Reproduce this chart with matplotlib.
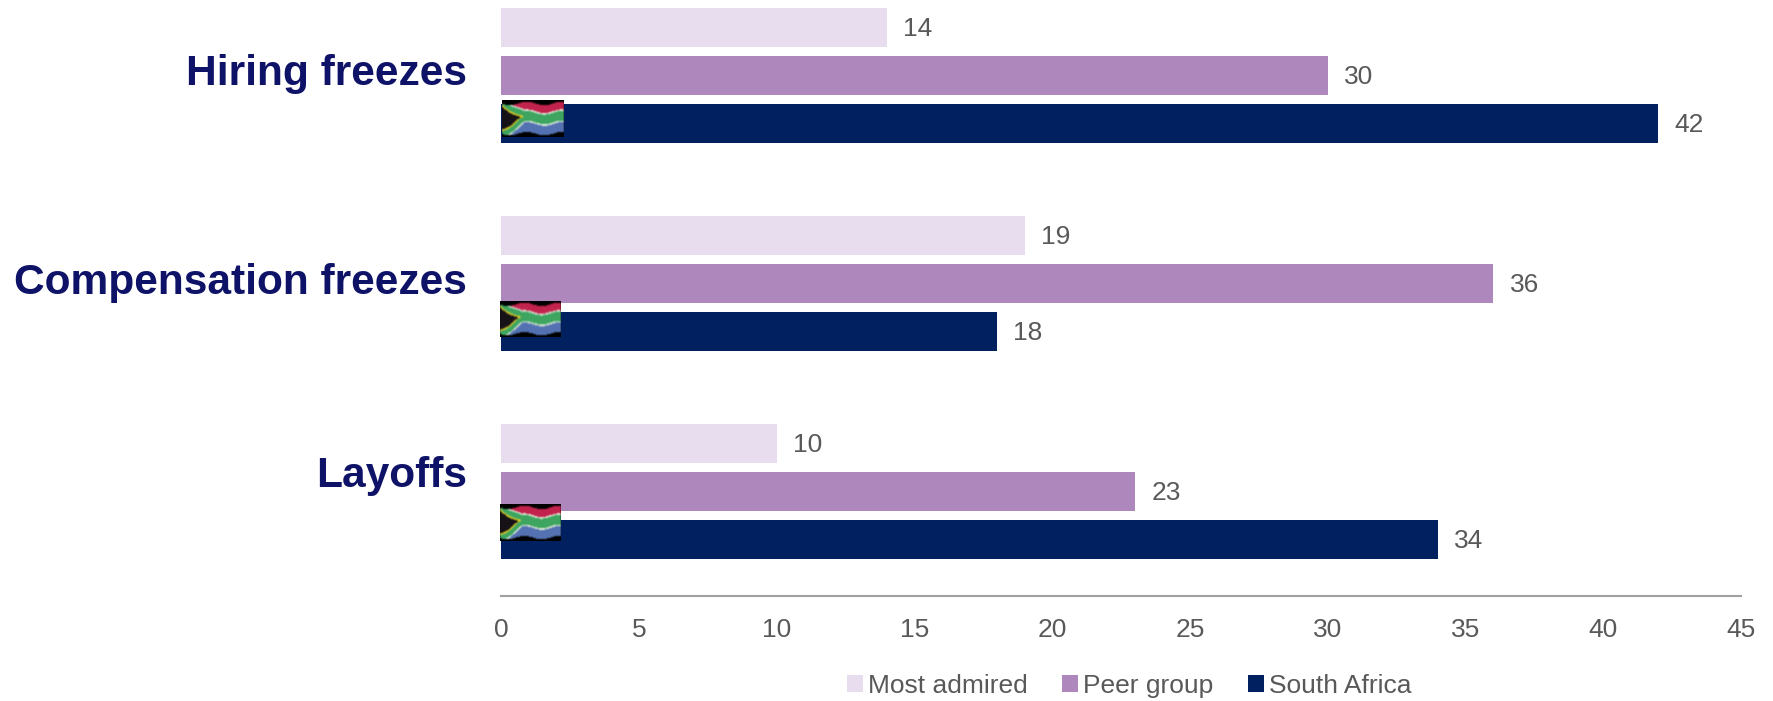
import numpy as np
import matplotlib
matplotlib.use("Agg")
import matplotlib.pyplot as plt
from matplotlib.patches import Patch

plt.rcParams['font.family'] = ['Liberation Sans', 'DejaVu Sans']

categories = ['Hiring freezes', 'Compensation freezes', 'Layoffs']
series_names = ['Most admired', 'Peer group', 'South Africa']
most_admired = [14, 19, 10]
peer_group = [30, 36, 23]
south_africa = [42, 18, 34]
x_ticks = [0, 5, 10, 15, 20, 25, 30, 35, 40, 45]

colors = ['#E8DDEE', '#AE87BC', '#002060']
W, H = 1774, 701


def flag_image(w=61, h=37):
    # wavy South African flag, blurred a bit like the pasted picture
    red = (0.76, 0.14, 0.30)
    blue = (0.33, 0.45, 0.70)
    green = (0.24, 0.65, 0.38)
    white = (0.88, 0.92, 0.85)
    yellow = (0.85, 0.78, 0.15)
    dark = (0.09, 0.07, 0.09)
    img = np.zeros((h, w, 3))
    for j in range(h):
        for i in range(w):
            u = i / (w - 1)
            wave = 0.05 * np.sin(u * 11.0 + 0.3)
            v = (j / (h - 1) - 0.5 - wave) / 0.84 + 0.5
            if v < 0 or v > 1:
                continue
            d = abs(v - 0.47)
            rest = red if v < 0.47 else blue
            tri = max(0.5 - u * 1.25, 0.0)
            if d < tri - 0.13 and u < 0.30:
                c = dark
            elif d < tri - 0.07 and u < 0.36:
                c = yellow
            elif d < max(tri + 0.12, 0.16):
                c = green
            elif d < max(tri + 0.17, 0.21):
                c = white
            else:
                c = rest
            img[j, i] = c
    kernel = np.array([1, 2, 1]) / 4
    for ch in range(3):
        img[:, :, ch] = np.apply_along_axis(lambda r: np.convolve(r, kernel, mode='same'), 0, img[:, :, ch])
        img[:, :, ch] = np.apply_along_axis(lambda r: np.convolve(r, kernel, mode='same'), 1, img[:, :, ch])
    return img


fig = plt.figure(figsize=(W / 100, H / 100), dpi=100, facecolor='white')
# group spacing is 208 px, the top of the axes falls off the canvas
ax = fig.add_axes([501 / W, 105.5 / H, 1240 / W, 624 / H])

y = np.arange(len(categories))
bar_h = 39.5 / 208
offsets = [-48 / 208, 0, 48 / 208]
for vals, off, c in zip([most_admired, peer_group, south_africa], offsets, colors):
    bars = ax.barh(y + off, vals, height=bar_h, color=c)
    for b, v in zip(bars, vals):
        ax.annotate(str(v), (v, b.get_y() + b.get_height() / 2), xytext=(16.5, -1),
                    textcoords='offset pixels', va='center', ha='left',
                    fontsize=19, color='#595959')

ax.set_xlim(0, 45)
ax.set_ylim(2.5, -0.5)
ax.set_xticks(x_ticks)
ax.set_yticks([])
ax.tick_params(axis='x', length=0, pad=16.5, labelsize=19, labelcolor='#595959')
for s in ['top', 'left', 'right']:
    ax.spines[s].set_visible(False)
ax.spines['bottom'].set_color('#A0A0A0')
ax.spines['bottom'].set_linewidth(1.5)

# category labels do not sit at the group centres in the original
label_shift = [2, 0.5, 16]
for i, cat in enumerate(categories):
    ax.annotate(cat, (0, i), xytext=(-34, label_shift[i]), textcoords='offset pixels',
                ha='right', va='center', fontsize=30.6, fontweight='bold', color='#0F1368')

handles = [Patch(facecolor=c, label=n) for c, n in zip(colors, series_names)]
fig.legend(handles=handles, loc='center left', bbox_to_anchor=(847 / W, 1 - 686 / H),
           ncol=3, frameon=False, fontsize=19, labelcolor='#595959', handlelength=0.6,
           handleheight=0.6, handletextpad=0.2, columnspacing=1.3, borderpad=0,
           borderaxespad=0)

# flags, pixel boxes
flag = flag_image()
for x0, y0, x1, y1 in [(502, 100, 563, 137), (500, 301, 561, 337), (500, 504, 561, 541)]:
    fax = fig.add_axes([x0 / W, 1 - y1 / H, (x1 - x0) / W, (y1 - y0) / H])
    fax.imshow(flag, aspect='auto', interpolation='bilinear')
    fax.axis('off')

fig.savefig('out.png', dpi=100)
